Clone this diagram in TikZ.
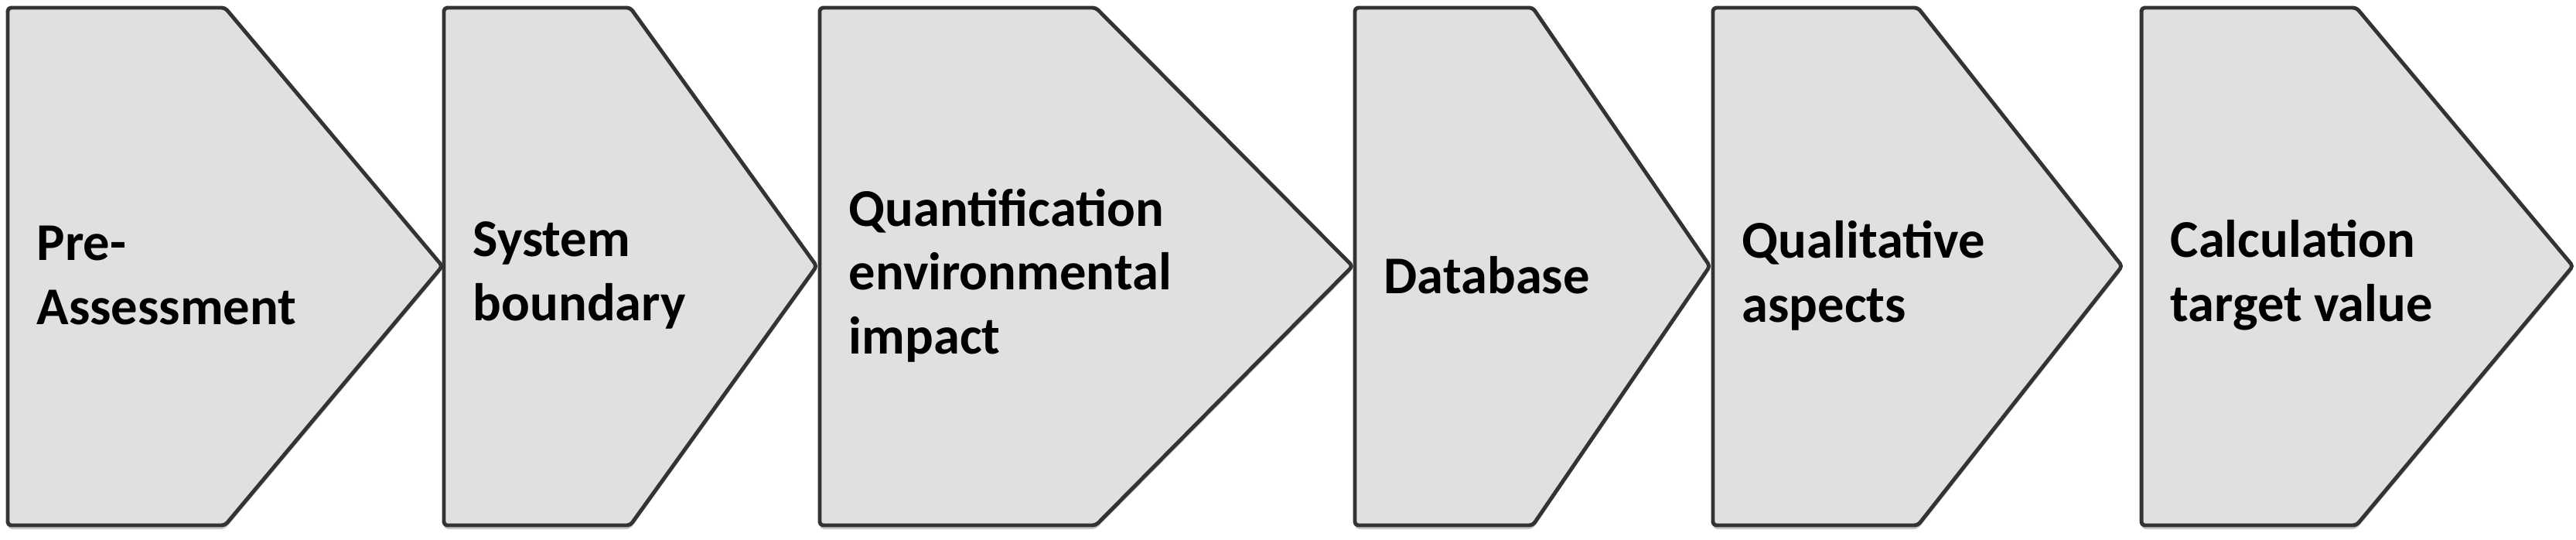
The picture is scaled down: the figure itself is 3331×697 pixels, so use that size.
\documentclass[tikz,border=0pt]{standalone}
\usepackage{fontspec}
\setmainfont{Carlito}
\definecolor{chevfill}{HTML}{E0E0E0}
\definecolor{chevline}{HTML}{333333}
\tikzset{
  chev/.style={fill=chevfill, draw=chevline, line width=1.4pt, rounded corners=1.2pt, line join=round},
  chevshadow/.style={fill=black, opacity=0.22, rounded corners=1.5pt},
  lbl/.style={anchor=west, align=left, font=\bfseries\fontsize{19.5}{23.5}\selectfont, inner sep=0pt, text=black}
}
\begin{document}
\begin{tikzpicture}[x=0.01cm,y=-0.01cm]
\useasboundingbox (0,0) rectangle (3331,697);
\foreach \L/\R/\T/\nm/\txt in {
  10/291/572/pre/{Pre-\\Assessment},
  574/815/1056/sys/{System\\boundary},
  1060/1417/1749/qua/{Quantification\\environmental\\impact},
  1752/1982/2211/dat/{Database},
  2215/2480/2744/qual/{Qualitative\\aspects},
  2769/3047/3327/calc/{Calculation\\target value}}
{
  \fill[chevshadow, shift={(0,5)}] (\L,10) -- (\R,10) -- (\T,344) -- (\R,679) -- (\L,679) -- cycle;
  \draw[chev] (\L,10) -- (\R,10) -- (\T,344) -- (\R,679) -- (\L,679) -- cycle;
  \node[lbl] (\nm) at ({\L+37},356) {\txt};
}
\end{tikzpicture}
\end{document}
